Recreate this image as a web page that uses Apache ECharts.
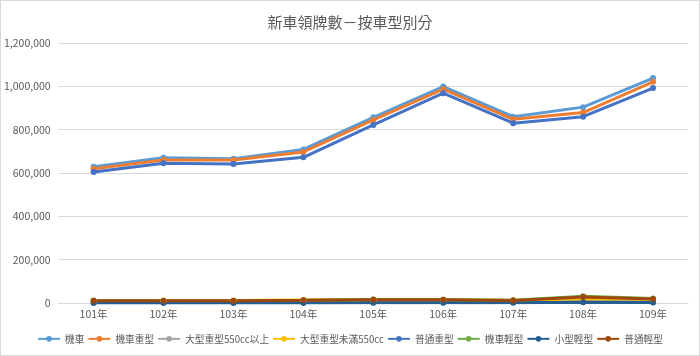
<!DOCTYPE html>
<html>
<head>
<meta charset="utf-8">
<script src="https://cdn.jsdelivr.net/npm/echarts@6/dist/echarts.min.js"></script>
<style>
html,body{margin:0;padding:0;background:#fff;}
#c{width:700px;height:356px;box-sizing:border-box;border:1px solid #d9d9d9;}
</style>
</head>
<body>
<div id="c"></div>
<script>
const title = '新車領牌數－按車型別分';
const categories = ['101年','102年','103年','104年','105年','106年','107年','108年','109年'];
const seriesNames = ['機車','機車重型','大型重型550cc以上','大型重型未滿550cc','普通重型','機車輕型','小型輕型','普通輕型'];
const motorcycle      = [629000, 670000, 666000, 709000, 857000, 999000, 860000, 904000, 1038000];
const heavy           = [620000, 660000, 660000, 697000, 845000, 987000, 848000, 879000, 1021000];
const large550Plus    = [6000, 6500, 7000, 8000, 8500, 8000, 7500, 8000, 9000];
const largeUnder550   = [9000, 10000, 11000, 14000, 16500, 15500, 11500, 20000, 17000];
const normalHeavy     = [604600, 645000, 641600, 672600, 822000, 968600, 829900, 860000, 991800];
const light           = [11000, 10400, 10900, 13000, 16100, 15500, 12500, 31000, 21000];
const smallLight      = [500, 400, 400, 500, 600, 1000, 1500, 3000, 2500];
const normalLight     = [10500, 10000, 10500, 12500, 15500, 14500, 11000, 28000, 18500];
const yTicks = [0, 200000, 400000, 600000, 800000, 1000000, 1200000];

const dataSets = [motorcycle, heavy, large550Plus, largeUnder550, normalHeavy, light, smallLight, normalLight];
const colors = ['#5B9BD5','#ED7D31','#A5A5A5','#FFC000','#4472C4','#70AD47','#255E91','#9E480E'];

const chart = echarts.init(document.getElementById('c'));
const font = 'Noto Sans CJK TC, sans-serif';
chart.setOption({
  animation: false,
  color: colors,
  title: {
    text: title, left: 'center', top: 9,
    textStyle: {fontFamily: font, fontSize: 15, fontWeight: 'normal', color: '#595959'}
  },
  legend: {
    top: 328, left: 'center', width: 690, itemWidth: 22, itemHeight: 7, itemGap: 3,
    textStyle: {fontFamily: font, fontSize: 9.7, color: '#595959'},
    data: seriesNames
  },
  grid: {left: 57, right: 11, top: 42, bottom: 52, containLabel: false},
  xAxis: {
    type: 'category', data: categories, boundaryGap: true,
    axisLine: {lineStyle: {color: '#d9d9d9'}},
    axisTick: {show: false},
    axisLabel: {fontFamily: font, fontSize: 10.5, color: '#595959', margin: 6}
  },
  yAxis: {
    type: 'value', min: yTicks[0], max: yTicks[yTicks.length-1], interval: 200000,
    axisLine: {show: false}, axisTick: {show: false},
    splitLine: {lineStyle: {color: '#d9d9d9'}},
    axisLabel: {fontFamily: font, fontSize: 10.5, color: '#595959', margin: 8,
      formatter: v => v.toLocaleString('en-US')}
  },
  series: seriesNames.map((n,i)=>({
    name: n, type: 'line', data: dataSets[i],
    symbol: 'circle', symbolSize: 6,
    lineStyle: {width: 3, color: colors[i]},
    itemStyle: {color: colors[i]}
  }))
});
</script>
</body>
</html>
